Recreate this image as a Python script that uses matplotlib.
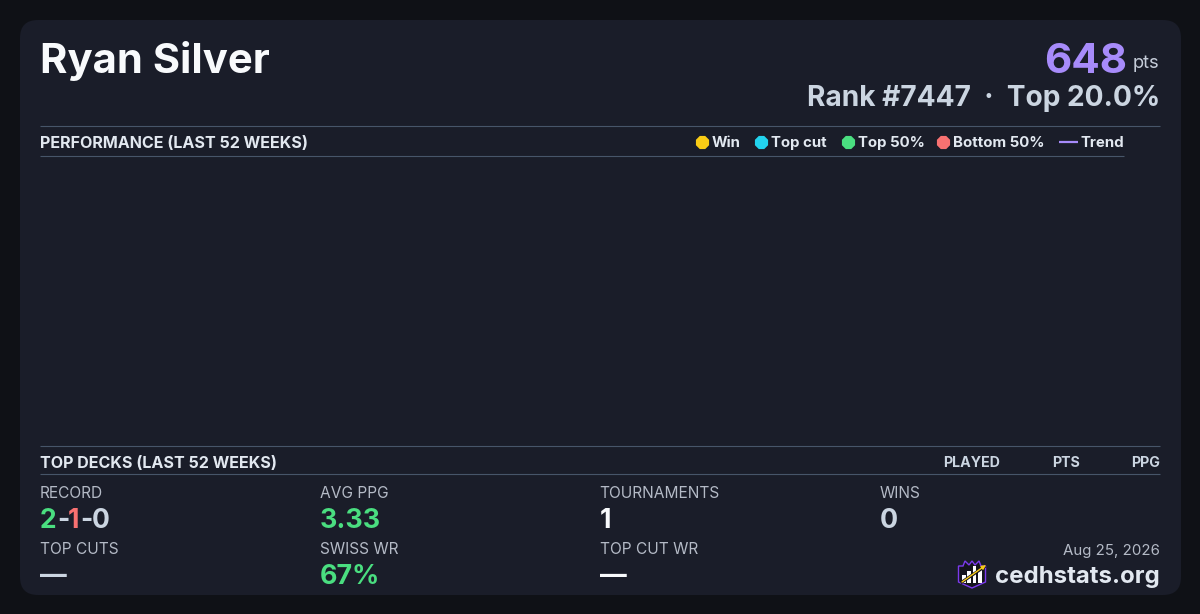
import matplotlib
matplotlib.use('Agg')
import matplotlib.pyplot as plt
from matplotlib.patches import FancyBboxPatch, Polygon, Rectangle

player = 'Ryan Silver'
points = '648'
rank_text = 'Rank #7447  ·  Top 20.0%'
perf_title = 'PERFORMANCE (LAST 52 WEEKS)'
decks_title = 'TOP DECKS (LAST 52 WEEKS)'
legend_labels = ['Win', 'Top cut', 'Top 50%', 'Bottom 50%']
legend_colors = ['#facc15', '#22d3ee', '#4ade80', '#f87171']
legend_x = [702, 761, 847.5, 943]
table_cols = ['PLAYED', 'PTS', 'PPG']
table_right = [1000, 1080, 1160]
date_text = 'Aug 25, 2026'
site = 'cedhstats.org'

BG = '#0f1116'
CARD = '#1a1d29'
LINE = '#475569'
LABEL = '#b4bac6'
WHITE = '#f8fafc'
LIGHT = '#cbd5e1'
GREEN = '#4ade80'
RED = '#f87171'
PURPLE = '#a78bfa'

plt.rcParams['font.family'] = ['Inter', 'DejaVu Sans']

fig = plt.figure(figsize=(12, 6.14), dpi=100, facecolor=BG)
ax = fig.add_axes([0, 0, 1, 1])
ax.set_xlim(0, 1200)
ax.set_ylim(614, 0)
ax.axis('off')


def txt(x, y, s, size, color, weight='normal', ha='left'):
    return ax.text(x, y, s, fontsize=size * 0.72, color=color, fontweight=weight,
                   ha=ha, va='baseline')


# card
ax.add_patch(FancyBboxPatch((20, 20), 1161, 575, boxstyle='round,pad=0,rounding_size=18',
                            fc=CARD, ec='none'))

# header
txt(40, 73, player, 41.8, WHITE, 'bold')
txt(1127, 73, points, 42, PURPLE, 'bold', 'right')
txt(1159.5, 68, 'pts', 18.3, '#c6cdd9', 'normal', 'right')
txt(1160, 106, rank_text, 28.1, LIGHT, 'bold', 'right')

# section rules
ax.plot([40, 1160], [126, 126], color=LINE, lw=0.8, solid_capstyle='butt')
ax.plot([40, 1124], [156, 156], color=LINE, lw=0.8, solid_capstyle='butt')
ax.plot([40, 1160], [446, 446], color=LINE, lw=0.8, solid_capstyle='butt')
ax.plot([40, 1160], [474, 474], color=LINE, lw=0.8, solid_capstyle='butt')

txt(40, 148, perf_title, 16.1, '#e2e8f0', 'bold')
txt(40, 468, decks_title, 16.1, '#e2e8f0', 'bold')

# legend
for x, lab, col in zip(legend_x, legend_labels, legend_colors):
    ax.scatter([x], [142], s=105, color=col, linewidths=0, zorder=3, marker='8')
    txt(x + 10, 147, lab, 15, '#e2e8f0', 'bold')
ax.plot([1059, 1078], [142, 142], color=PURPLE, lw=1.6, solid_capstyle='butt')
txt(1080.5, 147, 'Trend', 15, '#e2e8f0', 'bold')

for x, lab in zip(table_right, table_cols):
    txt(x, 467, lab, 14.2, LIGHT, 'bold', 'right')

# stats
txt(40, 497.6, 'RECORD', 15.5, LABEL)
rec = [('2', GREEN), ('-', LIGHT), ('1', RED), ('-', LIGHT), ('0', LIGHT)]
rec_x = [39.5, 57, 67.5, 80.5, 91.5]
for x, (s, c) in zip(rec_x, rec):
    txt(x, 528, s, 26.5, c, 'bold')
txt(320, 497.6, 'AVG PPG', 15.5, LABEL)
txt(320, 528, '3.33', 26.8, GREEN, 'bold')
txt(599.5, 497.6, 'TOURNAMENTS', 15.5, LABEL)
txt(600, 528, '1', 26.8, WHITE, 'bold')
txt(880, 497.6, 'WINS', 15.5, LABEL)
txt(880, 528, '0', 26.8, LIGHT, 'bold')

txt(40, 553.6, 'TOP CUTS', 15.5, LABEL)
txt(40, 584, '—', 26.8, LIGHT, 'bold')
txt(320, 553.6, 'SWISS WR', 15.5, LABEL)
txt(320, 584, '67%', 26.8, GREEN, 'bold')
txt(600, 553.6, 'TOP CUT WR', 15.5, LABEL)
txt(600, 584, '—', 26.8, WHITE, 'bold')

# footer
txt(1160, 555, date_text, 15, LABEL, 'normal', 'right')
txt(1160, 583, site, 24, '#e2e8f0', 'bold', 'right')

# logo
shield = [(958.5, 566), (963, 566), (965, 561), (969, 565), (972, 561), (975, 565),
          (979, 561), (981, 566), (985.5, 566), (985.5, 582), (972, 588), (958.5, 582)]
ax.add_patch(Polygon(shield, closed=True, fc='#14141c', ec='#7c3aed', lw=1.0))
for x, top in zip([962, 967, 972.5, 978], [575, 571, 566, 569]):
    ax.add_patch(Rectangle((x, top), 3.6, 583 - top, fc='white', ec='none'))
ax.plot([962, 984], [582, 567], color='#14141c', lw=2.2)
ax.annotate('', xy=(986, 565), xytext=(962, 582),
            arrowprops=dict(arrowstyle='-|>', color='#facc15', lw=1.0, mutation_scale=6,
                            shrinkA=0, shrinkB=0))

fig.savefig('out.png', dpi=100, facecolor=BG)
